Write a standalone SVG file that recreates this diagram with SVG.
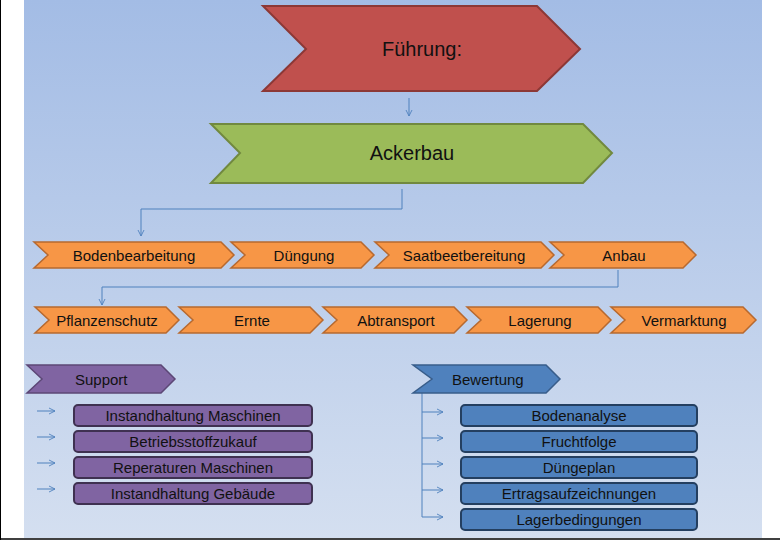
<svg xmlns="http://www.w3.org/2000/svg" width="780" height="540" viewBox="0 0 780 540">
<defs>
<linearGradient id="bg" x1="0" y1="0" x2="0" y2="1">
<stop offset="0" stop-color="#a3bce5"/>
<stop offset="1" stop-color="#d4dff0"/>
</linearGradient>
<marker id="ah" markerWidth="8" markerHeight="8" refX="7" refY="4" orient="auto" markerUnits="userSpaceOnUse">
<polyline points="1,1 7,4 1,7" fill="none" stroke="#4f81bd" stroke-width="0.9"/>
</marker>
</defs>
<style>
text{font-family:"Liberation Sans",Arial,sans-serif;fill:#111111;dominant-baseline:central}
.big{font-size:20px;text-anchor:middle}
.row{font-size:15px;text-anchor:middle}
.hd{font-size:15px}
.bx{font-size:15px;text-anchor:middle}
.org{fill:#f79646;stroke:#b7692f;stroke-width:1.5}
.pur{fill:#8064a2;stroke:#5c4776;stroke-width:1.5}
.blu{fill:#4f81bd;stroke:#385d8a;stroke-width:1.5}
.pbox{fill:#8064a2;stroke:#3f3151;stroke-width:2}
.bbox{fill:#4f81bd;stroke:#243f60;stroke-width:2}
.con{fill:none;stroke:#4f81bd;stroke-width:1}
</style>
<rect x="0" y="0" width="780" height="540" fill="#ffffff"/>
<rect x="24" y="0" width="738" height="538" fill="url(#bg)"/>
<line x1="0.5" y1="0" x2="0.5" y2="540" stroke="#000" stroke-width="1"/>
<line x1="0" y1="539" x2="780" y2="539" stroke="#000" stroke-width="1.5"/>

<g id="connectors">
<line class="con" x1="409" y1="98" x2="409" y2="116" marker-end="url(#ah)"/>
<polyline class="con" points="402,189 402,209 141,209 141,236" marker-end="url(#ah)"/>
<polyline class="con" points="618,270 618,287 102,287 102,305" marker-end="url(#ah)"/>
<line class="con" x1="37" y1="411" x2="55" y2="411" marker-end="url(#ah)"/>
<line class="con" x1="37" y1="437" x2="55" y2="437" marker-end="url(#ah)"/>
<line class="con" x1="37" y1="463" x2="55" y2="463" marker-end="url(#ah)"/>
<line class="con" x1="37" y1="489" x2="55" y2="489" marker-end="url(#ah)"/>
<polyline class="con" points="422,393 422,517 443,517" marker-end="url(#ah)"/>
<line class="con" x1="422" y1="412" x2="443" y2="412" marker-end="url(#ah)"/>
<line class="con" x1="422" y1="438" x2="443" y2="438" marker-end="url(#ah)"/>
<line class="con" x1="422" y1="464" x2="443" y2="464" marker-end="url(#ah)"/>
<line class="con" x1="422" y1="490" x2="443" y2="490" marker-end="url(#ah)"/>
</g>

<g id="fuehrung">
<polygon points="263,6 537,6 580,49 537,91 263,91 306,49" fill="#c0504d" stroke="#8c3836" stroke-width="2"/>
<text class="big" x="422" y="49">Führung:</text>
</g>
<g id="ackerbau">
<polygon points="211,124 583,124 612,153 583,183 211,183 240,153" fill="#9bbb59" stroke="#71893f" stroke-width="2"/>
<text class="big" x="412" y="153">Ackerbau</text>
</g>

<g id="bodenbearbeitung"><polygon class="org" points="34,242 221,242 234,255 221,268 34,268 48,255"/><text class="row" x="134" y="255">Bodenbearbeitung</text></g>
<g id="duengung"><polygon class="org" points="231,242 361,242 374,255 361,268 231,268 245,255"/><text class="row" x="304" y="255">Düngung</text></g>
<g id="saatbeetbereitung"><polygon class="org" points="375,242 541,242 554,255 541,268 375,268 389,255"/><text class="row" x="464" y="255">Saatbeetbereitung</text></g>
<g id="anbau"><polygon class="org" points="550,242 683,242 696,255 683,268 550,268 564,255"/><text class="row" x="624" y="255">Anbau</text></g>

<g id="pflanzenschutz"><polygon class="org" points="35,307 166,307 179,320 166,333 35,333 49,320"/><text class="row" x="107" y="320">Pflanzenschutz</text></g>
<g id="ernte"><polygon class="org" points="179,307 310,307 323,320 310,333 179,333 193,320"/><text class="row" x="252" y="320">Ernte</text></g>
<g id="abtransport"><polygon class="org" points="323,307 454,307 467,320 454,333 323,333 337,320"/><text class="row" x="396" y="320">Abtransport</text></g>
<g id="lagerung"><polygon class="org" points="467,307 598,307 611,320 598,333 467,333 481,320"/><text class="row" x="540" y="320">Lagerung</text></g>
<g id="vermarktung"><polygon class="org" points="611,307 743,307 756,320 743,333 611,333 625,320"/><text class="row" x="684" y="320">Vermarktung</text></g>

<g id="support"><polygon class="pur" points="27,365 161,365 175,379 161,393 27,393 42,379"/><text class="hd" x="75" y="379">Support</text></g>
<g id="instandhaltung-maschinen"><rect class="pbox" x="74" y="405" width="238" height="21" rx="4"/><text class="bx" x="193" y="415.5">Instandhaltung Maschinen</text></g>
<g id="betriebsstoffzukauf"><rect class="pbox" x="74" y="431" width="238" height="21" rx="4"/><text class="bx" x="193" y="441.5">Betriebsstoffzukauf</text></g>
<g id="reperaturen-maschinen"><rect class="pbox" x="74" y="457" width="238" height="21" rx="4"/><text class="bx" x="193" y="467.5">Reperaturen Maschinen</text></g>
<g id="instandhaltung-gebaeude"><rect class="pbox" x="74" y="483" width="238" height="21" rx="4"/><text class="bx" x="193" y="493.5">Instandhaltung Gebäude</text></g>

<g id="bewertung"><polygon class="blu" points="413,365 546,365 560,379 546,393 413,393 432,379"/><text class="hd" x="452" y="379">Bewertung</text></g>
<g id="bodenanalyse"><rect class="bbox" x="461" y="405" width="236" height="21" rx="4"/><text class="bx" x="579" y="415.5">Bodenanalyse</text></g>
<g id="fruchtfolge"><rect class="bbox" x="461" y="431" width="236" height="21" rx="4"/><text class="bx" x="579" y="441.5">Fruchtfolge</text></g>
<g id="duengeplan"><rect class="bbox" x="461" y="457" width="236" height="21" rx="4"/><text class="bx" x="579" y="467.5">Düngeplan</text></g>
<g id="ertragsaufzeichnungen"><rect class="bbox" x="461" y="483" width="236" height="21" rx="4"/><text class="bx" x="579" y="493.5">Ertragsaufzeichnungen</text></g>
<g id="lagerbedingungen"><rect class="bbox" x="461" y="509" width="236" height="21" rx="4"/><text class="bx" x="579" y="519.5">Lagerbedingungen</text></g>
</svg>
